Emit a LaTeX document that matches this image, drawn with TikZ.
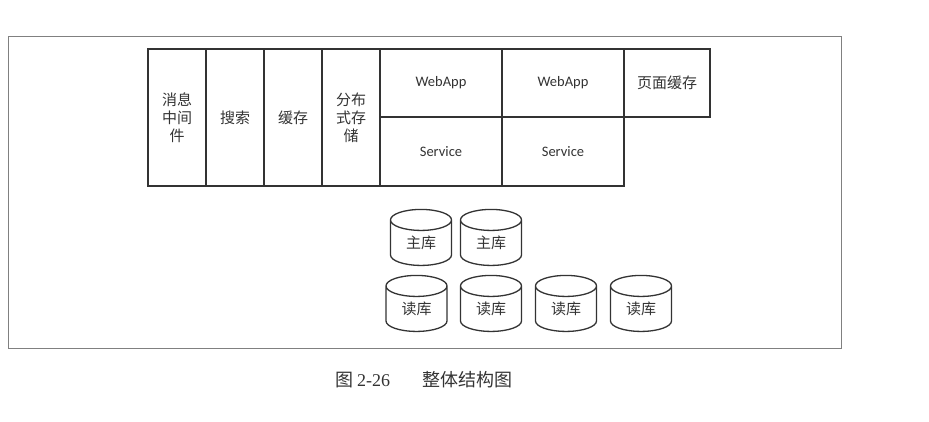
\documentclass[tikz,border=0pt]{standalone}
\usepackage{fontspec}
\setmainfont{Noto Sans CJK SC}
\newfontfamily\latinfont{Carlito}
\newfontfamily\numfont{Liberation Serif}
\usetikzlibrary{shapes.geometric}

\begin{document}
\begin{tikzpicture}[x=1pt,y=-1pt,
	cell/.style={draw=black!80, line width=1.6pt, rectangle, inner sep=0pt, text=black!80},
	narrow/.style={cell, minimum width=58, minimum height=137, align=center, font={\fontsize{15}{18}\selectfont}},
	half/.style={cell, minimum width=122, minimum height=68.5, font={\latinfont\fontsize{14.5}{16}\selectfont}},
	db/.style={cylinder, shape border rotate=90, aspect=0.7, draw=black!80, line width=1.3pt, minimum width=61, minimum height=56, inner sep=0pt, text=black!80, font={\fontsize{15}{16}\selectfont}}]
	%the frame
	    \useasboundingbox (0,0) rectangle (929,421);
	    \draw[black!50, line width=0.8pt] (8,36) rectangle (841,348);
	%the top row of boxes
    \node[narrow] (mq) at (177,117.5) {消息\\中间\\件};
    \node[narrow] (search) at (235,117.5) {搜索};
    \node[narrow] (cache) at (293,117.5) {缓存};
    \node[narrow] (dfs) at (351,117.5) {分布\\式存\\储};
    \node[half] (webapp1) at (441,83) {WebApp};
    \node[half] (service1) at (441,151.5) {Service};
    \node[half] (webapp2) at (563,83) {WebApp};
    \node[half] (service2) at (563,151.5) {Service};
    \node[cell, minimum width=86, minimum height=68.5, font={\fontsize{15}{16}\selectfont}] (pagecache) at (667,83) {页面缓存};
	%the databases
    \node[db] (master1) at (421,243) {主库};
    \node[db] (master2) at (491,243) {主库};
    \node[db] (slave1) at (416.5,309) {读库};
    \node[db] (slave2) at (491,309) {读库};
    \node[db] (slave3) at (566,309) {读库};
    \node[db] (slave4) at (641,309) {读库};
	%caption
    \node[anchor=west, inner sep=0pt, text=black!80, font={\fontsize{18}{20}\selectfont}] (caption) at (335,380) {图 {\numfont 2-26}\hspace{1.8em}整体结构图};
\end{tikzpicture}
\end{document}
